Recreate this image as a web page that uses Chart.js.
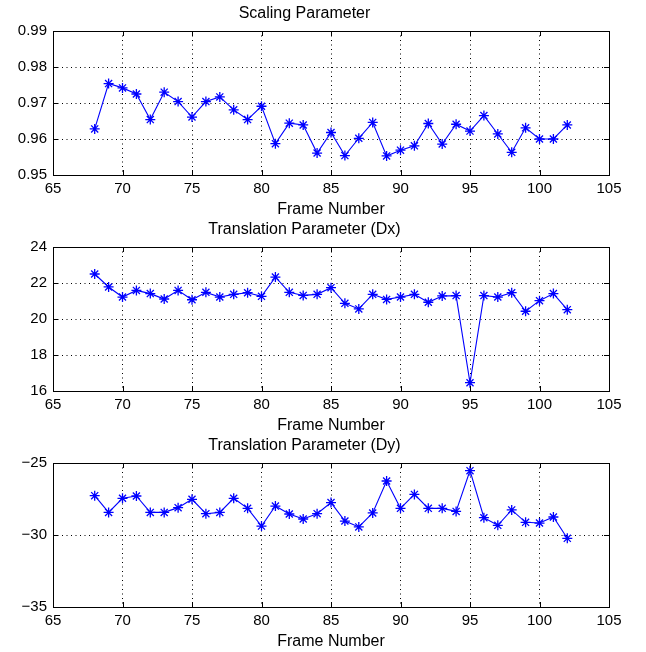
<!DOCTYPE html>
<html>
<head>
<meta charset="utf-8">
<script src="https://cdn.jsdelivr.net/npm/chart.js@4.4.1/dist/chart.umd.min.js"></script>
<style>
  html, body { margin: 0; padding: 0; background: #fff; overflow: hidden; }
  #wrap { position: relative; width: 646px; height: 652px; }
  canvas { position: absolute; left: 0; }
</style>
</head>
<body>
<div id="wrap">
  <canvas id="c1" width="646" height="220" style="top:0px"></canvas>
  <canvas id="c2" width="646" height="220" style="top:216px"></canvas>
  <canvas id="c3" width="646" height="220" style="top:432px"></canvas>
</div>
<script>
const frames = [68, 69, 70, 71, 72, 73, 74, 75, 76, 77, 78, 79, 80, 81, 82, 83, 84, 85,
  86, 87, 88, 89, 90, 91, 92, 93, 94, 95, 96, 97, 98, 99, 100, 101, 102];

const scaling = [0.9628, 0.9754, 0.9742, 0.9725, 0.9654, 0.9730, 0.9704, 0.9661, 0.9704,
  0.9717, 0.9681, 0.9654, 0.9691, 0.9587, 0.9644, 0.9639, 0.9561, 0.9618,
  0.9554, 0.9602, 0.9646, 0.9553, 0.9569, 0.9581, 0.9643, 0.9586, 0.9641,
  0.9622, 0.9665, 0.9614, 0.9563, 0.9631, 0.9600, 0.9600, 0.9639];

const dx = [22.50, 21.78, 21.22, 21.59, 21.41, 21.11, 21.59, 21.07, 21.48,
  21.22, 21.37, 21.46, 21.26, 22.33, 21.48, 21.31, 21.37, 21.74,
  20.87, 20.56, 21.37, 21.09, 21.22, 21.37, 20.93, 21.28, 21.30,
  16.46, 21.30, 21.22, 21.46, 20.43, 21.02, 21.41, 20.52];

const dy = [-27.27, -28.43, -27.45, -27.29, -28.43, -28.43, -28.10, -27.52, -28.52,
  -28.43, -27.45, -28.15, -29.38, -27.99, -28.54, -28.89, -28.52, -27.75,
  -29.03, -29.44, -28.47, -26.25, -28.15, -27.18, -28.15, -28.15, -28.36,
  -25.53, -28.80, -29.33, -28.26, -29.12, -29.17, -28.75, -30.23];

const xTicks = [65, 70, 75, 80, 85, 90, 95, 100, 105];
const scalingTicks = [0.95, 0.96, 0.97, 0.98, 0.99];
const scalingLabels = ["0.95", "0.96", "0.97", "0.98", "0.99"];
const dxTicks = [16, 18, 20, 22, 24];
const dxLabels = ["16", "18", "20", "22", "24"];
const dyTicks = [-35, -30, -25];
const dyLabels = ["\u221235", "\u221230", "\u221225"];

const FONT = "'Liberation Sans', Arial, Helvetica, sans-serif";

// box around the plot area + inward tick marks, like matlab axes
const boxPlugin = {
  id: "box",
  afterDraw(chart) {
    const { ctx, chartArea: a, scales } = chart;
    const yt = chart.options.plugins.box.yTicks;
    ctx.save();
    ctx.strokeStyle = "#000";
    ctx.lineWidth = 1;
    ctx.setLineDash([]);
    ctx.strokeRect(a.left + 0.5, a.top + 0.5, a.right - a.left, a.bottom - a.top);
    ctx.beginPath();
    xTicks.forEach(v => {
      const px = Math.round(scales.x.getPixelForValue(v)) + 0.5;
      ctx.moveTo(px, a.bottom);
      ctx.lineTo(px, a.bottom - 5);
      ctx.moveTo(px, a.top);
      ctx.lineTo(px, a.top + 5);
    });
    yt.forEach(v => {
      const py = Math.round(scales.y.getPixelForValue(v)) + 0.5;
      ctx.moveTo(a.left, py);
      ctx.lineTo(a.left + 5, py);
      ctx.moveTo(a.right, py);
      ctx.lineTo(a.right - 5, py);
    });
    ctx.stroke();
    ctx.restore();
  }
};

function makeChart(id, title, values, yTicks, yLabels) {
  const points = frames.map((f, i) => ({ x: f, y: values[i] }));
  return new Chart(document.getElementById(id), {
    type: "line",
    data: {
      datasets: [{
        data: points,
        borderColor: "#0000ff",
        borderWidth: 1.1,
        pointStyle: "star",
        pointRadius: 5,
        pointBorderColor: "#0000ff",
        pointBorderWidth: 1.3,
        pointBackgroundColor: "rgba(0,0,0,0)",
        tension: 0,
        fill: false
      }]
    },
    plugins: [boxPlugin],
    options: {
      responsive: false,
      animation: false,
      devicePixelRatio: 1,
      layout: { padding: { left: 0, right: 37, top: 0, bottom: 0 } },
      plugins: {
        legend: { display: false },
        tooltip: { enabled: false },
        box: { yTicks: yTicks },
        title: {
          display: true,
          text: title,
          color: "#000",
          font: { family: FONT, size: 16, weight: "normal" },
          padding: { top: 4, bottom: 7.8 }
        }
      },
      scales: {
        x: {
          type: "linear",
          min: xTicks[0],
          max: xTicks[xTicks.length - 1],
          afterFit: s => { s.height = 45; },
          afterBuildTicks: s => { s.ticks = xTicks.map(v => ({ value: v })); },
          ticks: {
            autoSkip: false,
            maxRotation: 0,
            padding: 5.3,
            color: "#000",
            font: { family: FONT, size: 15 }
          },
          grid: { color: "#000", lineWidth: 1, drawTicks: false },
          border: { display: false, dash: [1, 3.5] },
          title: {
            display: true,
            text: "Frame Number",
            color: "#000",
            font: { family: FONT, size: 16 },
            padding: { top: 0, bottom: 1 }
          }
        },
        y: {
          min: yTicks[0],
          max: yTicks[yTicks.length - 1],
          afterFit: s => { s.width = 53; },
          afterBuildTicks: s => { s.ticks = yTicks.map(v => ({ value: v })); },
          ticks: {
            autoSkip: false,
            padding: 6,
            color: "#000",
            font: { family: FONT, size: 15 },
            callback: (v) => yLabels[yTicks.indexOf(v)]
          },
          grid: { color: "#000", lineWidth: 1, drawTicks: false },
          border: { display: false, dash: [1, 3.5] }
        }
      }
    }
  });
}

makeChart("c1", "Scaling Parameter", scaling, scalingTicks, scalingLabels);
makeChart("c2", "Translation Parameter (Dx)", dx, dxTicks, dxLabels);
makeChart("c3", "Translation Parameter (Dy)", dy, dyTicks, dyLabels);
</script>
</body>
</html>
